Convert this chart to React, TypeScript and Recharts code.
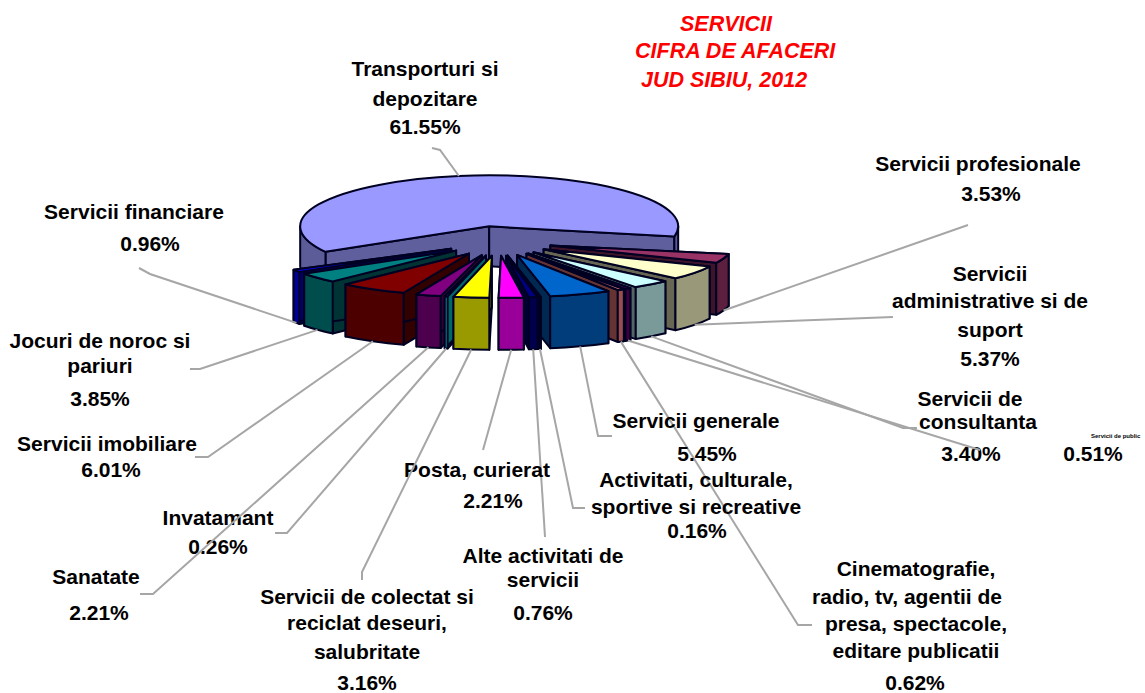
import { PieChart, Pie } from 'recharts';

const names = [
  'Transporturi si depozitare',
  'Servicii profesionale',
  'Servicii administrative si de suport',
  'Servicii de consultanta',
  'Servicii de publicitate',
  'Cinematografie, radio, tv, agentii de presa, spectacole, editare publicatii',
  'Servicii generale',
  'Activitati, culturale, sportive si recreative',
  'Alte activitati de servicii',
  'Posta, curierat',
  'Servicii de colectat si reciclat deseuri, salubritate',
  'Invatamant',
  'Sanatate',
  'Servicii imobiliare',
  'Jocuri de noroc si pariuri',
  'Servicii financiare',
];

const shares = [61.55, 3.53, 5.37, 3.4, 0.51, 0.62, 5.45, 0.16, 0.76, 2.21, 3.16, 0.26, 2.21, 6.01, 3.85, 0.96];

const colors = [
  '#9999FF', '#993366', '#FFFFCC', '#CCFFFF', '#660066', '#FF8080', '#0066CC', '#CCCCFF',
  '#000080', '#FF00FF', '#FFFF00', '#00FFFF', '#800080', '#800000', '#008080', '#0000FF',
];

const rows = names.map((name, i) => ({ name, value: shares[i], fill: colors[i] }));

// hand placed labels: text lines with centre x and baseline y, the last spot is the percentage
const labelLayout: Record<string, { lines: string[]; spots: number[][]; leader: number[][] }> = {
  [names[0]]: { lines: ['Transporturi si', 'depozitare'], spots: [[425, 76], [425, 106], [425, 134]], leader: [[432, 148], [440, 150]] },
  [names[1]]: { lines: ['Servicii profesionale'], spots: [[978, 171], [991, 201]], leader: [[968, 225]] },
  [names[2]]: { lines: ['Servicii', 'administrative si de', 'suport'], spots: [[990, 281], [990, 308], [990, 337], [990, 366]], leader: [[893, 317]] },
  [names[3]]: { lines: ['Servicii de', 'consultanta'], spots: [[970, 406], [978, 429], [971, 461]], leader: [[917, 428], [903, 428]] },
  [names[4]]: { lines: [], spots: [[1093, 461]], leader: [[980, 450]] },
  [names[5]]: { lines: ['Cinematografie,', 'radio, tv, agentii de', 'presa, spectacole,', 'editare publicatii'], spots: [[916, 576], [907, 604], [916, 631], [916, 658], [915, 690]], leader: [[812, 625], [798, 625]] },
  [names[6]]: { lines: ['Servicii generale'], spots: [[696, 428], [707, 461]], leader: [[612, 436], [598, 436]] },
  [names[7]]: { lines: ['Activitati, culturale,', 'sportive si recreative'], spots: [[696, 487], [696, 514], [697, 538]], leader: [[585, 508], [573, 508]] },
  [names[8]]: { lines: ['Alte activitati de', 'servicii'], spots: [[543, 563], [543, 587], [543, 620]], leader: [[545, 537]] },
  [names[9]]: { lines: ['Posta, curierat'], spots: [[477, 477], [493, 508]], leader: [[483, 450]] },
  [names[10]]: { lines: ['Servicii de colectat si', 'reciclat deseuri,', 'salubritate'], spots: [[367, 604], [367, 630], [367, 659], [367, 690]], leader: [[362, 580], [362, 572]] },
  [names[11]]: { lines: ['Invatamant'], spots: [[218, 525], [218, 554]], leader: [[275, 533], [287, 533]] },
  [names[12]]: { lines: ['Sanatate'], spots: [[96, 584], [99, 620]], leader: [[140, 594], [153, 594]] },
  [names[13]]: { lines: ['Servicii imobiliare'], spots: [[107, 451], [111, 477]], leader: [[195, 457], [208, 457]] },
  [names[14]]: { lines: ['Jocuri de noroc si', 'pariuri'], spots: [[100, 348], [100, 373], [100, 406]], leader: [[190, 369], [200, 369]] },
  [names[15]]: { lines: ['Servicii financiare'], spots: [[134, 219], [150, 251]], leader: [[139, 268], [150, 274]] },
};

const TILT = 0.27;
const EXPLODE = 55;
const RADIUS = 189;
// the small slices look narrower and flatter than the big one in the original
const SMALL_RX = 182;
const SMALL_RY = 42;
const FONT = '"Liberation Sans", Arial, sans-serif';

const rad = (deg: number) => (deg * Math.PI) / 180;
const norm = (deg: number) => ((deg % 360) + 360) % 360;

function shade(hex: string, factor: number) {
  const n = parseInt(hex.slice(1), 16);
  const part = (v: number) => Math.round(v * factor);
  return `rgb(${part((n >> 16) & 255)},${part((n >> 8) & 255)},${part(n & 255)})`;
}

// centre of the exploded slice, in screen degrees (clockwise, y down)
function sliceCentre(cx: number, cy: number, mid: number) {
  return [cx + EXPLODE * Math.cos(rad(mid)), cy + EXPLODE * TILT * Math.sin(rad(mid))];
}

const wallHeight = (mid: number) => (norm(mid) < 180 ? 52 : 40);

function Slice3D(props: any, leftSide: boolean) {
  const { cx, cy, startAngle, endAngle, fill } = props;
  const lo = Math.min(-startAngle, -endAngle);
  const hi = Math.max(-startAngle, -endAngle);
  const mid = (lo + hi) / 2;
  const m = norm(mid);
  const isLeft = m > 91 && m < 180;
  if (isLeft !== leftSide) return <g />;

  const [px, py] = sliceCentre(cx, cy, mid);
  const d = wallHeight(mid);
  const big = hi - lo > 180;
  const rx = big ? RADIUS : SMALL_RX;
  const ry = big ? RADIUS * TILT : SMALL_RY;
  const at = (a: number) => [px + rx * Math.cos(rad(a)), py + ry * Math.sin(rad(a))];
  const [x0, y0] = at(lo);
  const [x1, y1] = at(hi);

  const arcs: number[][] = [];
  for (const k of [-360, 0, 360]) {
    const a = Math.max(lo, k);
    const b = Math.min(hi, k + 180);
    if (b > a) arcs.push([a, b]);
  }

  const line = { stroke: '#000022', strokeWidth: 2, strokeLinejoin: 'round' as const };
  const radialFill = shade(fill, big ? 0.62 : 0.4);

  return (
    <g>
      <path d={`M${px},${py} L${x0},${y0} L${x0},${y0 + d} L${px},${py + d} Z`} fill={radialFill} {...line} />
      <path d={`M${px},${py} L${x1},${y1} L${x1},${y1 + d} L${px},${py + d} Z`} fill={radialFill} {...line} />
      {arcs.map(([a, b]) => {
        const [ax, ay] = at(a);
        const [bx, by] = at(b);
        return (
          <path
            key={a}
            d={`M${ax},${ay} A${rx},${ry} 0 0 1 ${bx},${by} L${bx},${by + d} A${rx},${ry} 0 0 0 ${ax},${ay + d} Z`}
            fill={shade(fill, 0.6)}
            {...line}
          />
        );
      })}
      <path d={`M${px},${py} L${x0},${y0} A${rx},${ry} 0 ${big ? 1 : 0} 1 ${x1},${y1} Z`} fill={fill} {...line} />
    </g>
  );
}

function SliceLabel(props: any) {
  const { cx, cy, midAngle, name, value } = props;
  const layout = labelLayout[name];
  if (!layout) return <g />;
  const mid = -midAngle;
  const [px, py] = sliceCentre(cx, cy, mid);
  const front = norm(mid) < 180;
  const ex = px + (front ? SMALL_RX : RADIUS) * Math.cos(rad(mid));
  const ey = py + (front ? SMALL_RY : RADIUS * TILT) * Math.sin(rad(mid)) + (front ? wallHeight(mid) : 0);
  const points = [...layout.leader, [ex, ey]].map((p) => p.join(',')).join(' ');
  const percent = layout.spots[layout.spots.length - 1];
  const textStyle = { fontFamily: FONT, fontWeight: 700, fontSize: 21, fill: '#000', textAnchor: 'middle' as const };
  return (
    <g>
      <polyline points={points} fill="none" stroke="#a6a6a6" strokeWidth={2} />
      {layout.lines.map((text, i) => (
        <text key={text} x={layout.spots[i][0]} y={layout.spots[i][1]} {...textStyle}>
          {text}
        </text>
      ))}
      <text x={percent[0]} y={percent[1]} {...textStyle}>
        {value.toFixed(2)}%
      </text>
      {name === names[4] && (
        <text x={1091} y={438} fontFamily={FONT} fontWeight={700} fontSize={6} fill="#000">
          Servicii de public
        </text>
      )}
    </g>
  );
}

const titleLines = [
  { text: 'SERVICII', left: 680, top: 12 },
  { text: 'CIFRA DE AFACERI', left: 635, top: 39 },
  { text: 'JUD SIBIU, 2012', left: 641, top: 68 },
];

export default function App() {
  return (
    <div style={{ position: 'fixed', left: 0, top: 0, width: 1145, height: 693, overflow: 'hidden', background: '#fff' }}>
      <PieChart width={1145} height={693} margin={{ top: 0, right: 0, bottom: 0, left: 0 }}>
        <Pie
          data={rows}
          dataKey="value"
          nameKey="name"
          cx={498}
          cy={241}
          outerRadius={RADIUS}
          startAngle={-150}
          endAngle={-510}
          isAnimationActive={false}
          shape={(p: any) => Slice3D(p, false)}
          label={SliceLabel}
          labelLine={false}
        />
        {/* same slices walked the other way so the left side paints back to front */}
        <Pie
          data={[...rows].reverse()}
          dataKey="value"
          nameKey="name"
          cx={498}
          cy={241}
          outerRadius={RADIUS}
          startAngle={-150}
          endAngle={210}
          isAnimationActive={false}
          shape={(p: any) => Slice3D(p, true)}
          label={false}
          labelLine={false}
        />
      </PieChart>
      {titleLines.map((t) => (
        <div
          key={t.text}
          style={{ position: 'absolute', left: t.left, top: t.top, font: `italic 700 21.5px ${FONT}`, color: '#ff0000', whiteSpace: 'nowrap' }}
        >
          {t.text}
        </div>
      ))}
    </div>
  );
}
